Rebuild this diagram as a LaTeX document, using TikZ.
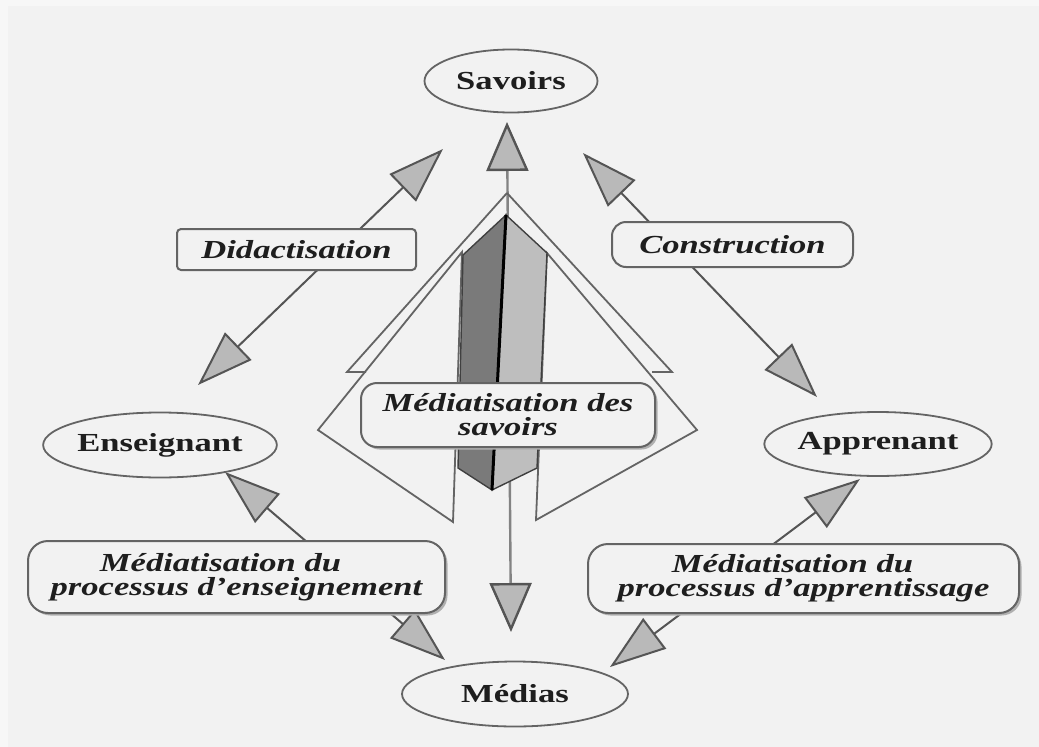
\documentclass[tikz,border=0pt]{standalone}
\usepackage{fontspec}
\setmainfont[FakeStretch=1.33]{Liberation Serif}
\usetikzlibrary{arrows.meta,shapes.geometric,shadows}
\definecolor{bg}{HTML}{F2F2F2}
\definecolor{bgedge}{HTML}{F7F7F7}
\definecolor{ln}{HTML}{646464}
\definecolor{tipline}{HTML}{555555}
\definecolor{tipfill}{HTML}{B9B9B9}
\definecolor{txt}{HTML}{1E1E1E}
\definecolor{darkface}{HTML}{7A7A7A}
\definecolor{lightface}{HTML}{BEBEBE}
\definecolor{shadowc}{HTML}{B0B0B0}
\begin{document}
\begin{tikzpicture}[x=1pt,y=-1pt,
  pole/.style={ellipse, draw=ln, line width=1.8pt, fill=bg, inner sep=0pt, text=txt,
    font=\fontsize{26}{28}\selectfont\bfseries},
  lab/.style={rectangle, draw=ln, line width=2pt, fill=bg, inner sep=0pt, align=center, text=txt,
    font=\fontsize{26}{24}\selectfont\bfseries\itshape},
  shadowed/.style={drop shadow={shadow xshift=2.5pt, shadow yshift=-2.5pt, fill=shadowc, opacity=1}},
  dconn/.style={draw=tipline, line width=2pt, {Triangle[length=56pt,width=38pt,fill=tipfill]}-{Triangle[length=56pt,width=38pt,fill=tipfill]}},
  vconn/.style={draw=ln!80, line width=2.4pt, {Triangle[length=49pt,width=42pt,color=tipline,fill=tipfill]}-{Triangle[length=49pt,width=42pt,color=tipline,fill=tipfill]}},
  plate/.style={draw=ln, line width=1.8pt, fill=bg, line join=miter},
  edgeline/.style={draw=ln, line width=1.8pt},
  face/.style={draw=black!75, line width=1.4pt}
]
\useasboundingbox (0,0) rectangle (1039,747);
\fill[bgedge] (0,0) rectangle (1039,747);
\fill[bg] (8,6) rectangle (1039,747);

% free ends of the connectors
\coordinate (didU) at (443,149);
\coordinate (didL) at (198,385);
\coordinate (conU) at (583,153);
\coordinate (conR) at (817,397);
\coordinate (midU) at (507,122);
\coordinate (midD) at (511,632);
\coordinate (ensT) at (225,472);
\coordinate (medL) at (445,660);
\coordinate (appT) at (860,479);
\coordinate (medR) at (610,667);

% central vertical double arrow (behind the prism)
\draw[vconn] (midD) -- (midU);

% pyramid plates
\draw[plate] (462,252) -- (318,430) -- (453,522) -- cycle;
\draw[plate] (547,253) -- (697,430) -- (536,520) -- cycle;
\draw[edgeline] (507,193) -- (347,372) -- (366,372);
\draw[edgeline] (507,193) -- (672,372) -- (652,372);

% prism
\filldraw[face, fill=darkface] (506,215) -- (463,255) -- (458,468) -- (492,490) -- cycle;
\filldraw[face, fill=lightface] (506,215) -- (547,253) -- (537,468) -- (492,490) -- cycle;
\draw[black, line width=3pt] (506,215) -- (492,490);

% diagonal double arrows
\draw[dconn] (didU) -- (didL);
\draw[dconn] (conU) -- (conR);
\draw[dconn] (ensT) -- (medL);
\draw[dconn] (appT) -- (medR);

% poles
\node[pole, minimum width=173pt, minimum height=63pt] (sav) at (511,81) {Savoirs};
\node[pole, minimum width=224pt, minimum height=65pt] (ens) at (160,445) {Enseignant};
\node[pole, minimum width=209pt, minimum height=64pt] (app) at (878,444) {Apprenant};
\node[pole, minimum width=226pt, minimum height=65pt] (med) at (515,694) {Médias};

% labels
\node[lab, rounded corners=4pt, minimum width=239pt, minimum height=41pt] (did) at (296.5,249.5) {Didactisation};
\node[lab, rounded corners=14pt, minimum width=241pt, minimum height=45pt] (con) at (732.5,244.5) {Construction};
\node[lab, shadowed, rounded corners=16pt, minimum width=294pt, minimum height=64pt] (mds) at (508,415) {Médiatisation des\\savoirs};
\node[lab, shadowed, rounded corners=20pt, minimum width=417pt, minimum height=72pt] (mpe) at (236.5,577) {Médiatisation du\hspace*{32pt}\\processus d'enseignement};
\node[lab, shadowed, rounded corners=20pt, minimum width=431pt, minimum height=69pt] (mpa) at (803.5,578.5) {Médiatisation du\hspace*{22pt}\\processus d'apprentissage};
\end{tikzpicture}
\end{document}
